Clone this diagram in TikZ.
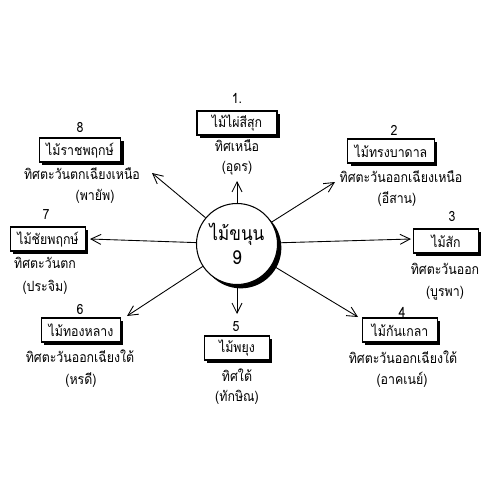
\documentclass[tikz,border=0pt]{standalone}
\usepackage{fontspec}
\newfontfamily\thaifont[Script=Thai,FakeStretch=0.88]{Loma}
\usetikzlibrary{shadows,arrows.meta}

\tikzset{
  treebox/.style={draw, fill=white, line width=0.6pt, inner xsep=4pt, inner ysep=2pt,
    minimum height=0.48cm, font=\thaifont\fontsize{8}{9}\selectfont,
    drop shadow={shadow xshift=1.6pt, shadow yshift=-1.6pt, fill=black, opacity=1}},
  numtext/.style={font=\thaifont\fontsize{8}{9}\selectfont},
  dirtext/.style={font=\thaifont\fontsize{8}{9}\selectfont},
  ray/.style={-{Straight Barb[length=2mm,width=2mm]}, line width=0.5pt},
}

\begin{document}
\begin{tikzpicture}[x=0.02cm, y=-0.02cm]
\useasboundingbox (0,0) rectangle (500,500);

\node[circle, draw, fill=white, line width=0.6pt, minimum size=1.62cm, inner sep=0pt, align=center,
  font=\thaifont\fontsize{11}{14}\selectfont,
  drop shadow={shadow xshift=2.2pt, shadow yshift=-2.2pt, fill=black, opacity=1}]
  (hub) at (237,244) {ไม้ขนุน\\9};

\node[numtext] (num1) at (237,98) {1.};
\node[treebox, minimum width=1.6cm] (tree1) at (237,123) {ไม้ไผ่สีสุก};
\node[dirtext] (dir1) at (237,146) {ทิศเหนือ};
\node[dirtext] (old1) at (237,168) {(อุดร)};

\node[numtext] (num2) at (394,130) {2};
\node[treebox, minimum width=1.56cm] (tree2) at (391,151) {ไม้ทรงบาดาล};
\node[dirtext] (dir2) at (401,177) {ทิศตะวันออกเฉียงเหนือ};
\node[dirtext] (old2) at (397,199) {(อีสาน)};

\node[numtext] (num3) at (452,216) {3};
\node[treebox, minimum width=1.3cm] (tree3) at (446,241) {ไม้สัก};
\node[dirtext] (dir3) at (445,269) {ทิศตะวันออก};
\node[dirtext] (old3) at (445,293) {(บูรพา)};

\node[numtext] (num4) at (402,312) {4};
\node[treebox, minimum width=1.5cm] (tree4) at (400,330) {ไม้กันเกลา};
\node[dirtext] (dir4) at (403,357) {ทิศตะวันออกเฉียงใต้};
\node[dirtext] (old4) at (402,380) {(อาคเนย์)};

\node[numtext] (num5) at (236,327) {5};
\node[treebox, minimum width=1.3cm] (tree5) at (237,348) {ไม้พยุง};
\node[dirtext] (dir5) at (237,375) {ทิศใต้};
\node[dirtext] (old5) at (237,397) {(ทักษิณ)};

\node[numtext] (num6) at (80,309) {6};
\node[treebox, minimum width=1.54cm] (tree6) at (81,330) {ไม้ทองหลาง};
\node[dirtext] (dir6) at (80,356) {ทิศตะวันออกเฉียงใต้};
\node[dirtext] (old6) at (81,380) {(หรดี)};

\node[numtext] (num7) at (46,215) {7};
\node[treebox, minimum width=1.44cm] (tree7) at (48,239) {ไม้ชัยพฤกษ์};
\node[dirtext] (dir7) at (45,263) {ทิศตะวันตก};
\node[dirtext] (old7) at (45,287) {(ประจิม)};

\node[numtext] (num8) at (80,127) {8};
\node[treebox, minimum width=1.5cm] (tree8) at (80,150) {ไม้ราชพฤกษ์};
\node[dirtext] (dir8) at (82,174) {ทิศตะวันตกเฉียงเหนือ};
\node[dirtext] (old8) at (95,196) {(พายัพ)};

\coordinate (tipN) at (237,181);
\coordinate (tipNE) at (335,182);
\coordinate (tipE) at (411,239);
\coordinate (tipSE) at (358,317);
\coordinate (tipS) at (237,314);
\coordinate (tipSW) at (127,316);
\coordinate (tipW) at (90,239);
\coordinate (tipNW) at (152,173);

\foreach \t in {N,NE,E,SE,S,SW,W,NW} {
  \draw[ray] (hub) -- (tip\t);
}
\end{tikzpicture}
\end{document}
